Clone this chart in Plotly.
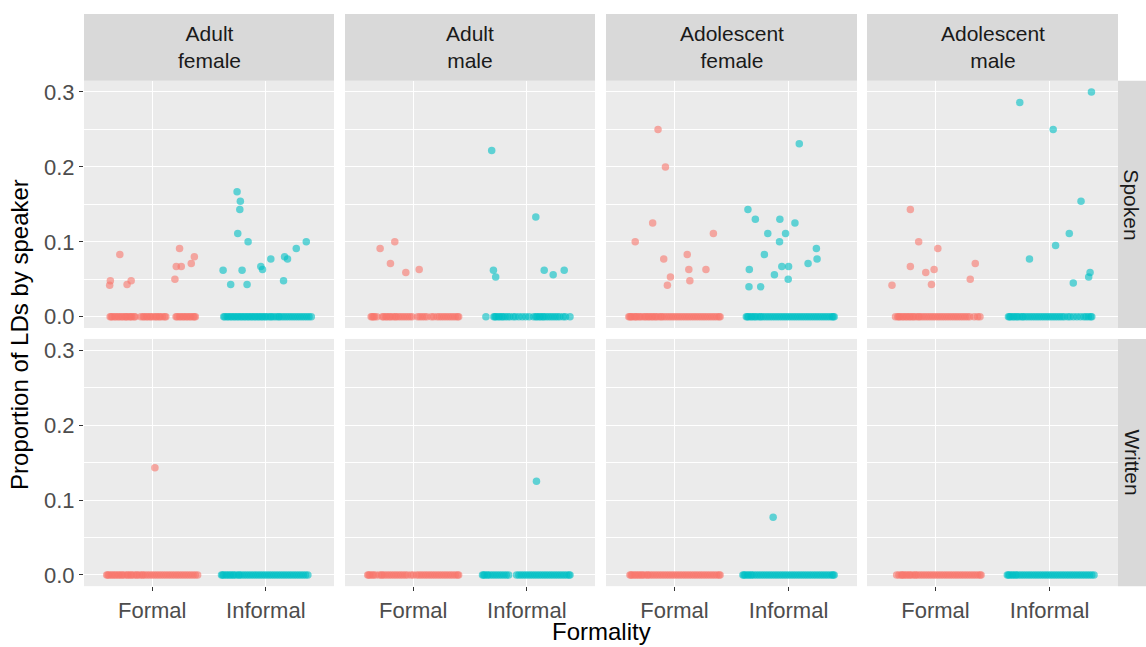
import plotly.graph_objects as go

# Facet layout: columns are speaker groups, rows are modes
groups = ["Adult<br>female", "Adult<br>male", "Adolescent<br>female", "Adolescent<br>male"]
modes = ["Spoken", "Written"]
formality_ticks = ["Formal", "Informal"]

# Non-zero observations: (jittered x position, proportion), per panel
sp_af_formal_x = [0.626, 0.632, 0.715, 0.779, 0.815, 1.200, 1.212, 1.256, 1.241, 1.344, 1.371]
sp_af_formal_y = [0.042, 0.048, 0.083, 0.043, 0.048, 0.050, 0.067, 0.067, 0.091, 0.071, 0.080]
sp_af_informal_x = [1.747, 1.776, 1.771, 1.753, 1.844, 1.624, 1.691, 1.791, 1.835, 1.956, 1.971,
                    2.044, 2.165, 2.191, 2.156, 2.268, 2.356]
sp_af_informal_y = [0.167, 0.154, 0.143, 0.111, 0.100, 0.062, 0.043, 0.062, 0.043, 0.067, 0.063,
                    0.077, 0.080, 0.077, 0.048, 0.091, 0.100]

sp_am_formal_x = [0.709, 0.838, 0.800, 0.935, 1.053]
sp_am_formal_y = [0.091, 0.100, 0.071, 0.059, 0.063]
sp_am_informal_x = [1.691, 1.706, 1.726, 2.079, 2.153, 2.232, 2.329]
sp_am_informal_y = [0.222, 0.062, 0.053, 0.133, 0.062, 0.056, 0.062]

sp_adf_formal_x = [0.856, 0.921, 0.809, 0.656, 1.341, 0.906, 1.112, 1.126, 1.276, 0.965, 1.135, 0.938]
sp_adf_formal_y = [0.250, 0.200, 0.125, 0.100, 0.111, 0.077, 0.083, 0.063, 0.063, 0.053, 0.048, 0.042]
sp_adf_informal_x = [2.094, 1.644, 1.709, 1.924, 2.056, 1.818, 1.974, 1.921, 1.788, 2.244, 2.250,
                     2.171, 1.941, 2.000, 1.656, 1.876, 1.997, 1.653, 1.756]
sp_adf_informal_y = [0.231, 0.143, 0.130, 0.130, 0.125, 0.111, 0.111, 0.100, 0.083, 0.091, 0.077,
                     0.071, 0.067, 0.067, 0.063, 0.056, 0.050, 0.040, 0.040]

sp_adm_formal_x = [0.780, 0.853, 1.021, 0.780, 0.915, 0.988, 0.965, 0.619, 1.349, 1.305]
sp_adm_formal_y = [0.143, 0.100, 0.091, 0.067, 0.059, 0.063, 0.043, 0.042, 0.071, 0.050]
sp_adm_informal_x = [2.367, 1.739, 2.032, 2.276, 2.173, 2.053, 1.824, 2.355, 2.343, 2.208]
sp_adm_informal_y = [0.300, 0.286, 0.250, 0.154, 0.111, 0.095, 0.077, 0.059, 0.053, 0.045]

wr_af_formal_x = [1.024]
wr_af_formal_y = [0.143]
wr_am_informal_x = [2.085]
wr_am_informal_y = [0.125]
wr_adf_informal_x = [1.865]
wr_adf_informal_y = [0.077]

# Zero-valued observations: jittered x positions in hundredths of a category step
sp_af_formal_zero = [63, 64, 65, 67, 68, 70, 71, 73, 74, 76, 77, 78, 80, 81, 82, 84, 85, 90, 92, 93,
                     95, 96, 98, 99, 101, 103, 104, 106, 107, 109, 111, 112, 121, 122, 124, 125,
                     127, 128, 130, 131, 133, 134, 136, 137, 138]
sp_af_informal_zero = [163, 164, 166, 167, 169, 170, 172, 173, 175, 176, 178, 179, 181, 182, 184,
                       185, 187, 188, 190, 191, 193, 194, 196, 197, 199, 200, 202, 204, 205, 207,
                       209, 211, 212, 214, 216, 218, 220, 222, 224, 226, 228, 230, 232, 234, 236,
                       238, 240]
sp_am_formal_zero = [63, 64, 65, 66, 68, 73, 74, 76, 77, 79, 80, 82, 84, 85, 87, 89, 91, 93, 95,
                     97, 99, 104, 106, 108, 110, 112, 116, 118, 121, 123, 125, 127, 129, 131, 133,
                     135, 137, 139, 140]
sp_am_informal_zero = [164, 171, 172, 173, 175, 176, 178, 179, 181, 183, 185, 188, 190, 193, 196,
                       199, 202, 206, 208, 209, 211, 212, 214, 215, 217, 219, 221, 223, 225, 227,
                       229, 232, 234, 238]
sp_adf_formal_zero = [60, 61, 62, 63, 65, 66, 67, 69, 70, 72, 74, 75, 77, 78, 80, 81, 83, 84, 86,
                      88, 89, 91, 93, 95, 97, 99, 101, 103, 105, 107, 109, 111, 113, 115, 117, 119,
                      121, 123, 125, 127, 129, 131, 133, 135, 137, 139, 140]
sp_adf_informal_zero = [163, 164, 165, 167, 168, 170, 171, 173, 175, 176, 178, 180, 182, 184, 186,
                        188, 190, 192, 194, 196, 198, 200, 202, 204, 206, 208, 210, 212, 214, 216,
                        218, 220, 222, 224, 226, 228, 230, 232, 234, 236, 238, 239, 240]
sp_adm_formal_zero = [65, 67, 68, 69, 71, 72, 74, 75, 77, 78, 80, 81, 83, 85, 86, 88, 90, 92, 94,
                      96, 98, 100, 102, 104, 106, 108, 110, 112, 114, 116, 118, 120, 122, 124, 126,
                      128, 130, 134, 137, 139]
sp_adm_informal_zero = [164, 165, 166, 168, 169, 171, 172, 174, 176, 177, 179, 181, 183, 185, 187,
                        189, 191, 193, 195, 197, 199, 201, 203, 205, 207, 209, 211, 213, 216, 218,
                        221, 224, 227, 230, 232, 234, 236, 237]
wr_af_formal_zero = [60, 61, 62, 64, 65, 67, 68, 70, 71, 73, 74, 76, 78, 79, 81, 82, 84, 86, 87,
                     89, 91, 92, 94, 96, 98, 100, 102, 104, 106, 108, 110, 112, 114, 116, 118, 120,
                     122, 124, 126, 128, 130, 132, 134, 136, 138, 140]
wr_af_informal_zero = [161, 162, 163, 165, 166, 168, 169, 171, 172, 174, 176, 177, 179, 181, 183,
                       185, 187, 189, 191, 193, 195, 197, 199, 201, 203, 205, 207, 209, 211, 213,
                       215, 217, 219, 221, 223, 225, 227, 229, 231, 233, 235, 237]
wr_am_formal_zero = [60, 61, 62, 64, 65, 67, 70, 72, 73, 75, 77, 79, 81, 83, 85, 87, 89, 91, 93,
                     95, 98, 100, 103, 105, 107, 109, 111, 113, 115, 117, 119, 121, 123, 125, 127,
                     129, 131, 133, 135, 137, 139, 140]
wr_am_informal_zero = [161, 162, 163, 165, 166, 168, 170, 172, 174, 176, 178, 180, 182, 184, 191,
                       193, 195, 197, 199, 201, 203, 205, 207, 209, 211, 213, 215, 217, 219, 221,
                       223, 225, 227, 229, 231, 233, 235, 237, 238]
wr_adf_formal_zero = [61, 62, 63, 65, 66, 68, 69, 71, 72, 74, 76, 77, 79, 81, 83, 85, 87, 89, 91,
                      93, 95, 97, 99, 101, 103, 105, 107, 109, 111, 113, 115, 117, 119, 121, 123,
                      125, 127, 129, 131, 133, 135, 137, 139, 140]
wr_adf_informal_zero = [160, 161, 162, 164, 165, 167, 168, 170, 172, 174, 176, 178, 180, 182, 184,
                        186, 188, 190, 192, 194, 196, 198, 200, 202, 204, 206, 208, 210, 212, 214,
                        216, 218, 220, 222, 224, 226, 228, 230, 232, 234, 236, 238, 239, 240]
wr_adm_formal_zero = [66, 68, 70, 71, 72, 74, 75, 77, 78, 80, 82, 83, 85, 87, 89, 91, 93, 95, 97,
                      99, 101, 103, 105, 107, 109, 111, 113, 115, 117, 119, 121, 123, 125, 127,
                      129, 131, 133, 135, 137, 139, 140]
wr_adm_informal_zero = [163, 164, 165, 167, 168, 170, 171, 173, 175, 177, 179, 181, 183, 185, 187,
                        189, 191, 193, 195, 197, 199, 201, 203, 205, 207, 209, 211, 213, 215, 217,
                        219, 221, 223, 225, 227, 229, 231, 233, 235, 237, 239]

# panel order: Spoken row (4 groups) then Written row (4 groups)
panels = [
    (sp_af_formal_x, sp_af_formal_y, sp_af_formal_zero, sp_af_informal_x, sp_af_informal_y, sp_af_informal_zero),
    (sp_am_formal_x, sp_am_formal_y, sp_am_formal_zero, sp_am_informal_x, sp_am_informal_y, sp_am_informal_zero),
    (sp_adf_formal_x, sp_adf_formal_y, sp_adf_formal_zero, sp_adf_informal_x, sp_adf_informal_y, sp_adf_informal_zero),
    (sp_adm_formal_x, sp_adm_formal_y, sp_adm_formal_zero, sp_adm_informal_x, sp_adm_informal_y, sp_adm_informal_zero),
    (wr_af_formal_x, wr_af_formal_y, wr_af_formal_zero, [], [], wr_af_informal_zero),
    ([], [], wr_am_formal_zero, wr_am_informal_x, wr_am_informal_y, wr_am_informal_zero),
    ([], [], wr_adf_formal_zero, wr_adf_informal_x, wr_adf_informal_y, wr_adf_informal_zero),
    ([], [], wr_adm_formal_zero, [], [], wr_adm_informal_zero),
]

RED = "#F8766D"
TEAL = "#00BFC4"
FONT = "Liberation Sans, Arial, Helvetica, sans-serif"
W, H = 1146, 647

# pixel geometry of the facet grid
col_px = [(84, 334), (345, 595), (606, 857), (867, 1118)]
row_px = [(80, 328), (339, 587)]
strip_top = (13, 80)
strip_right = (1118, 1146)


def px_x(v):
    return v / W


def px_y(v):
    return 1 - v / H


fig = go.Figure()
layout = {}

for i, (fx, fy, fz, ix, iy, iz) in enumerate(panels):
    r, c = divmod(i, 4)
    n = i + 1
    xa = "x" if n == 1 else f"x{n}"
    ya = "y" if n == 1 else f"y{n}"
    for xs, ys, zeros, col in ((fx, fy, fz, RED), (ix, iy, iz, TEAL)):
        all_x = [z / 100 for z in zeros] + list(xs)
        all_y = [0.0] * len(zeros) + list(ys)
        fig.add_trace(go.Scatter(
            x=all_x, y=all_y, mode="markers", xaxis=xa, yaxis=ya,
            marker=dict(color=col, size=7.5, opacity=0.6, line=dict(width=0)),
            showlegend=False, hoverinfo="x+y",
        ))
    x0, x1 = col_px[c]
    y0, y1 = row_px[r]
    key_x = "xaxis" if n == 1 else f"xaxis{n}"
    key_y = "yaxis" if n == 1 else f"yaxis{n}"
    layout[key_x] = dict(
        domain=[px_x(x0), px_x(x1)], anchor=ya, range=[0.4, 2.6],
        tickmode="array", tickvals=[1, 2], ticktext=formality_ticks,
        showgrid=True, gridcolor="white", gridwidth=1.1, zeroline=False,
        showline=False, showticklabels=(r == 1),
        ticks="outside" if r == 1 else "", ticklen=4, tickwidth=1.1, tickcolor="#333333",
        tickfont=dict(family=FONT, size=22, color="#4D4D4D"),
        fixedrange=True,
    )
    layout[key_y] = dict(
        domain=[px_y(y1), px_y(y0)], anchor=xa, range=[-0.015, 0.315],
        tickmode="array", tickvals=[0, 0.1, 0.2, 0.3], ticktext=["0.0", "0.1", "0.2", "0.3"],
        showgrid=True, gridcolor="white", gridwidth=1.1, zeroline=False,
        minor=dict(tickvals=[0.05, 0.15, 0.25], showgrid=True, gridcolor="white", gridwidth=0.55, ticks=""),
        showline=False, showticklabels=(c == 0),
        ticks="outside" if c == 0 else "", ticklen=4, tickwidth=1.1, tickcolor="#333333",
        tickfont=dict(family=FONT, size=22, color="#4D4D4D"),
        fixedrange=True,
    )

shapes = []
annotations = []
# column strips
for c, label in enumerate(groups):
    x0, x1 = col_px[c]
    shapes.append(dict(type="rect", xref="paper", yref="paper",
                       x0=px_x(x0), x1=px_x(x1), y0=px_y(strip_top[1]), y1=px_y(strip_top[0]),
                       fillcolor="#D9D9D9", line=dict(width=0), layer="below"))
    annotations.append(dict(text=label, xref="paper", yref="paper",
                            x=px_x((x0 + x1) / 2), y=px_y(sum(strip_top) / 2 - 0.5),
                            xanchor="center", yanchor="middle", showarrow=False,
                            font=dict(family=FONT, size=21, color="#1A1A1A")))
# row strips
for r, label in enumerate(modes):
    y0, y1 = row_px[r]
    shapes.append(dict(type="rect", xref="paper", yref="paper",
                       x0=px_x(strip_right[0]), x1=px_x(strip_right[1]) + 0.01,
                       y0=px_y(y1), y1=px_y(y0),
                       fillcolor="#D9D9D9", line=dict(width=0), layer="below"))
    annotations.append(dict(text=label, xref="paper", yref="paper",
                            x=px_x(1132), y=px_y((y0 + y1) / 2), textangle=90,
                            xanchor="center", yanchor="middle", showarrow=False,
                            font=dict(family=FONT, size=21, color="#1A1A1A")))

# axis titles
annotations.append(dict(text="Formality", xref="paper", yref="paper",
                        x=px_x(601), y=px_y(632), xanchor="center", yanchor="middle",
                        showarrow=False, font=dict(family=FONT, size=24, color="#000000")))
annotations.append(dict(text="Proportion of LDs by speaker", xref="paper", yref="paper",
                        x=px_x(20), y=px_y(335), xanchor="center", yanchor="middle", textangle=-90,
                        showarrow=False, font=dict(family=FONT, size=24, color="#000000")))

fig.update_layout(
    width=W, height=H, margin=dict(l=0, r=0, t=0, b=0),
    paper_bgcolor="white", plot_bgcolor="#EBEBEB",
    shapes=shapes, annotations=annotations, showlegend=False,
    **layout,
)

fig.write_html("out.html", config={"displayModeBar": False})
